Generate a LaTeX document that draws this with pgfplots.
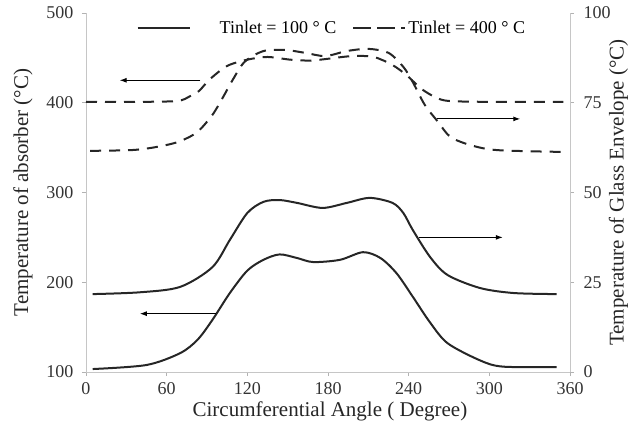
\documentclass[border=0pt]{standalone}
\usepackage{pgfplots}
\pgfplotsset{compat=1.18}
\usepackage{fontspec}
\setmainfont{Liberation Serif}
\usetikzlibrary{arrows.meta}

\pgfplotsset{
  base/.style={width=484pt, height=359pt, scale only axis,
    xmin=0, xmax=360, xtick={0,60,...,360},
    axis line style={draw=gray!45, line width=0.8pt},
    tick style={draw=gray!60, line width=0.6pt},
    major tick length=4pt, tick align=outside,
    tick label style={text=black!80, font=\fontsize{18}{20}\selectfont},
    xticklabel style={yshift=-3pt},
    label style={font=\fontsize{21}{23}\selectfont, text=black!85},
    /pgf/number format/assume math mode=true},
  curve/.style={smooth, black!85, line width=2pt},
  dcurve/.style={curve, dash pattern=on 11pt off 8pt},
  solidleg/.style={legend image code/.code={\draw[##1] (0pt,0pt) -- (52pt,0pt); \path[draw=none] (0pt,0pt) -- (80pt,0pt);}},
  dashleg/.style={legend image code/.code={\draw[##1, dash pattern=on 18pt off 6pt] (0pt,0pt) -- (52pt,0pt);}},
}

\begin{document}
\begin{tikzpicture}[font=\fontsize{18}{20}\selectfont]
\useasboundingbox (-86pt,-53pt) rectangle (545pt,372pt);
\begin{axis}[base, axis x line*=bottom, axis y line*=left,
  ymin=100, ymax=500, ytick={100,200,...,500},
  yticklabel style={xshift=-5pt},
  ylabel={Temperature of absorber (°C)},
  ylabel style={at={(axis description cs:-0.130,0.5)}, anchor=center},
  xlabel={Circumferential Angle ( Degree)},
  xlabel style={at={(axis description cs:0.504,-0.11)}, anchor=center},
  legend columns=2,
  legend style={draw=none, fill=none, at={(0.098,0.99)}, anchor=north west,
    font=\fontsize{18}{20}\selectfont, /tikz/every even column/.append style={column sep=14pt}},
  legend cell align=left]
% absorber, Tinlet = 100 C
\addplot[curve, solidleg]
  coordinates {(5,103.3) (45,107.8) (70,121) (83,136) (94,158) (107,188)
  (120,213) (132,225) (144,231) (157,227) (169,222.5) (189,225) (206,233.5) (219,227)
  (231,210) (243,184) (256,155) (269,132) (293,113) (310,106) (350,105.5)};
\addlegendentry{Tinlet = 100 ° C}
% absorber, Tinlet = 400 C
\addplot[dcurve, dashleg]
  coordinates {(0,401) (40,401) (68,402) (77,407) (84,413) (92,426)
  (105,441) (120,448) (135,451) (152,448) (167,447) (180,449) (198,452) (214,451)
  (228,442) (239,430) (249,416) (260,406) (270,402) (300,401) (355,401)};
\addlegendentry{Tinlet = 400 ° C}
% arrows pointing to the axis each curve is read on
\draw[-{Latex[length=7pt,width=5pt]}, line width=1pt] (axis cs:85,425) -- (axis cs:25,425);
\draw[-{Latex[length=7pt,width=5pt]}, line width=1pt] (axis cs:261,382) -- (axis cs:323,382);
\draw[-{Latex[length=7pt,width=5pt]}, line width=1pt] (axis cs:248,250) -- (axis cs:310,250);
\draw[-{Latex[length=7pt,width=5pt]}, line width=1pt] (axis cs:97,165) -- (axis cs:40,165);
\end{axis}
\begin{axis}[base, axis x line=none, axis y line*=right,
  ymin=0, ymax=100, ytick={0,25,...,100},
  yticklabel style={xshift=6pt},
  ylabel={Temperature of Glass Envelope (°C)},
  ylabel style={at={(axis description cs:1.10,0.5)}, anchor=center}]
% glass envelope, Tinlet = 100 C
\addplot[curve] coordinates {(5,21.7) (40,22.2) (70,23.7) (94,29.2) (107,36.8) (120,44.3)
  (132,47.4) (144,47.9) (157,47.1) (176,45.7) (194,47.1) (211,48.5) (228,47.1) (236,44.3)
  (243,39.6) (256,32.0) (269,27.0) (293,23.4) (318,22.0) (350,21.7)};
% glass envelope, Tinlet = 400 C
\addplot[dcurve] coordinates {(3,61.6) (33,61.8) (48,62.4) (63,63.5) (72,64.6) (83,66.9)
  (94,71.6) (102,76.6) (109,81.3) (118,86.4) (132,89.4) (148,89.7) (163,88.9) (178,88.0)
  (194,89.4) (210,90.0) (225,88.9) (236,85.0) (243,80.8) (252,74.4) (262,69.6) (271,65.5)
  (286,63.2) (306,61.8) (355,61.3)};
\end{axis}
\end{tikzpicture}
\end{document}
